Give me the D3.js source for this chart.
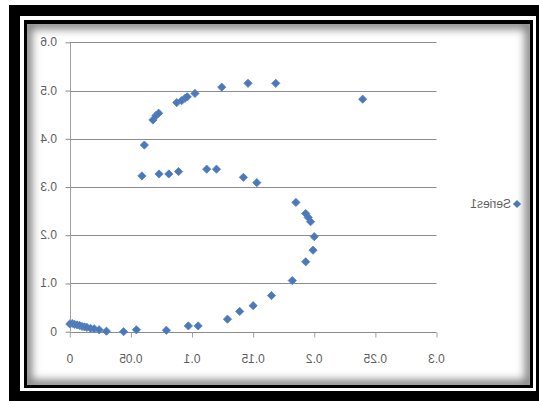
<!DOCTYPE html>
<html><head><meta charset="utf-8">
<script src="https://cdn.jsdelivr.net/npm/d3@7"></script>
<style>html,body{margin:0;padding:0;background:#fff;}svg{display:block;}</style>
</head><body>
<svg id="chart" width="539" height="401"></svg>
<script>
// Data
const xValues = [0, 0.002, 0.004, 0.006, 0.008, 0.010, 0.012, 0.014, 0.017, 0.020, 0.024, 0.030,
  0.044, 0.0545, 0.079, 0.097, 0.105,
  0.129, 0.139, 0.150, 0.165, 0.182, 0.193, 0.199, 0.200, 0.197, 0.195, 0.193, 0.185,
  0.153, 0.142, 0.120, 0.112, 0.089, 0.081, 0.073, 0.059,
  0.061, 0.068, 0.0705, 0.0727, 0.0875, 0.0915, 0.0943, 0.0961, 0.1024, 0.1243, 0.1458, 0.1685, 0.2396];
const yValues = [0.016, 0.017, 0.015, 0.014, 0.013, 0.011, 0.010, 0.009, 0.007, 0.006, 0.004, 0.001,
  0.000, 0.004, 0.003, 0.012, 0.012,
  0.026, 0.042, 0.054, 0.075, 0.106, 0.145, 0.169, 0.197, 0.228, 0.237, 0.245, 0.268,
  0.309, 0.320, 0.337, 0.337, 0.332, 0.327, 0.327, 0.323,
  0.387, 0.439, 0.448, 0.453, 0.475, 0.479, 0.484, 0.487, 0.494, 0.507, 0.515, 0.515, 0.482];
const xTicks = [0, 0.05, 0.1, 0.15, 0.2, 0.25, 0.3];
const xTickLabels = ["0", "0.05", "0.1", "0.15", "0.2", "0.25", "0.3"];
const yTicks = [0, 0.1, 0.2, 0.3, 0.4, 0.5, 0.6];
const yTickLabels = ["0", "0.1", "0.2", "0.3", "0.4", "0.5", "0.6"];
const seriesName = "Series1";

const svg = d3.select("#chart");
const defs = svg.append("defs");

// Frame
svg.append("rect").attr("x", 9).attr("y", 5).attr("width", 530).attr("height", 396).attr("fill", "#000");
svg.append("rect").attr("x", 20).attr("y", 16).attr("width", 516).attr("height", 375).attr("fill", "#fff");
svg.append("rect").attr("x", 24).attr("y", 20).attr("width", 509).attr("height", 368).attr("fill", "#000");
const panel = {x: 27, y: 24, w: 503, h: 361};
defs.append("clipPath").attr("id", "pclip").append("rect")
  .attr("x", panel.x).attr("y", panel.y).attr("width", panel.w).attr("height", panel.h);
const blur = defs.append("filter").attr("id", "blur").attr("x", "-10%").attr("y", "-10%").attr("width", "120%").attr("height", "120%");
blur.append("feGaussianBlur").attr("stdDeviation", 4);
svg.append("rect").attr("x", panel.x).attr("y", panel.y).attr("width", panel.w).attr("height", panel.h).attr("fill", "#fff");
svg.append("g").attr("clip-path", "url(#pclip)").append("rect")
  .attr("x", panel.x).attr("y", panel.y).attr("width", panel.w).attr("height", panel.h)
  .attr("fill", "none").attr("stroke", "#808080").attr("stroke-width", 10).attr("filter", "url(#blur)");

// Scales
const x = d3.scaleLinear().domain([0, 0.3]).range([69.8, 436.5]);
const y = d3.scaleLinear().domain([0, 0.6]).range([331.7, 42.3]);

const font = "'Liberation Sans', Arial, sans-serif";
const textColor = "#5e5e5e";

// Gridlines
svg.append("g").selectAll("line").data(yTicks.filter(d => d > 0)).join("line")
  .attr("x1", x(0)).attr("x2", x(0.3))
  .attr("y1", d => Math.round(y(d)) + 0.5).attr("y2", d => Math.round(y(d)) + 0.5)
  .attr("stroke", "#8c8c8c").attr("stroke-width", 1);

// Y axis
const yAxis = d3.axisLeft(y).tickValues(yTicks).tickSize(5).tickFormat("");
const gy = svg.append("g").attr("transform", `translate(${Math.round(x(0)) + 0.5},0)`).call(yAxis);
gy.selectAll("path.domain").attr("stroke", "#a0a0a0").attr("d", `M0,${y(0.6)}V${y(0)}`);
gy.selectAll(".tick line").attr("stroke", "#8c8c8c");

// X axis
const xAxis = d3.axisBottom(x).tickValues(xTicks).tickSize(5).tickFormat("");
const gx = svg.append("g").attr("transform", `translate(0,${Math.round(y(0)) + 0.5})`).call(xAxis);
gx.selectAll("path.domain").attr("stroke", "#8c8c8c").attr("d", `M${x(0)},0H${x(0.3)}`);
gx.selectAll(".tick line").attr("stroke", "#a0a0a0");

// Tick labels (glyphs mirrored as in the reference)
svg.append("g").selectAll("text").data(yTicks).join("text")
  .attr("transform", d => `translate(57,${y(d)}) scale(-1,1)`)
  .attr("text-anchor", "start").attr("dominant-baseline", "central")
  .attr("font-family", font).attr("font-size", 12).attr("fill", textColor)
  .text((d, i) => yTickLabels[i]);
svg.append("g").selectAll("text").data(xTicks).join("text")
  .attr("transform", d => `translate(${x(d)},358.5) scale(-1,1)`)
  .attr("text-anchor", "middle").attr("dominant-baseline", "central")
  .attr("font-family", font).attr("font-size", 12).attr("fill", textColor)
  .text((d, i) => xTickLabels[i]);

// Points
const pts = xValues.map((v, i) => [v, yValues[i]]);
const sym = d3.symbol().type(d3.symbolSquare).size(34);
svg.append("g").selectAll("path").data(pts).join("path")
  .attr("d", sym)
  .attr("transform", d => `translate(${x(d[0])},${y(d[1])}) rotate(45)`)
  .attr("fill", "#4a78b8").attr("stroke", "#5a86c2").attr("stroke-width", 0.8);

// Legend (mirrored)
const lg = svg.append("g").attr("transform", "translate(520,204) scale(-1,1)");
lg.append("path").attr("d", sym).attr("transform", "translate(3,0) rotate(45)").attr("fill", "#4a78b8");
lg.append("text").attr("x", 9).attr("y", 0).attr("dominant-baseline", "central")
  .attr("font-family", font).attr("font-size", 12).attr("fill", textColor).text(seriesName);
</script>
</body></html>
